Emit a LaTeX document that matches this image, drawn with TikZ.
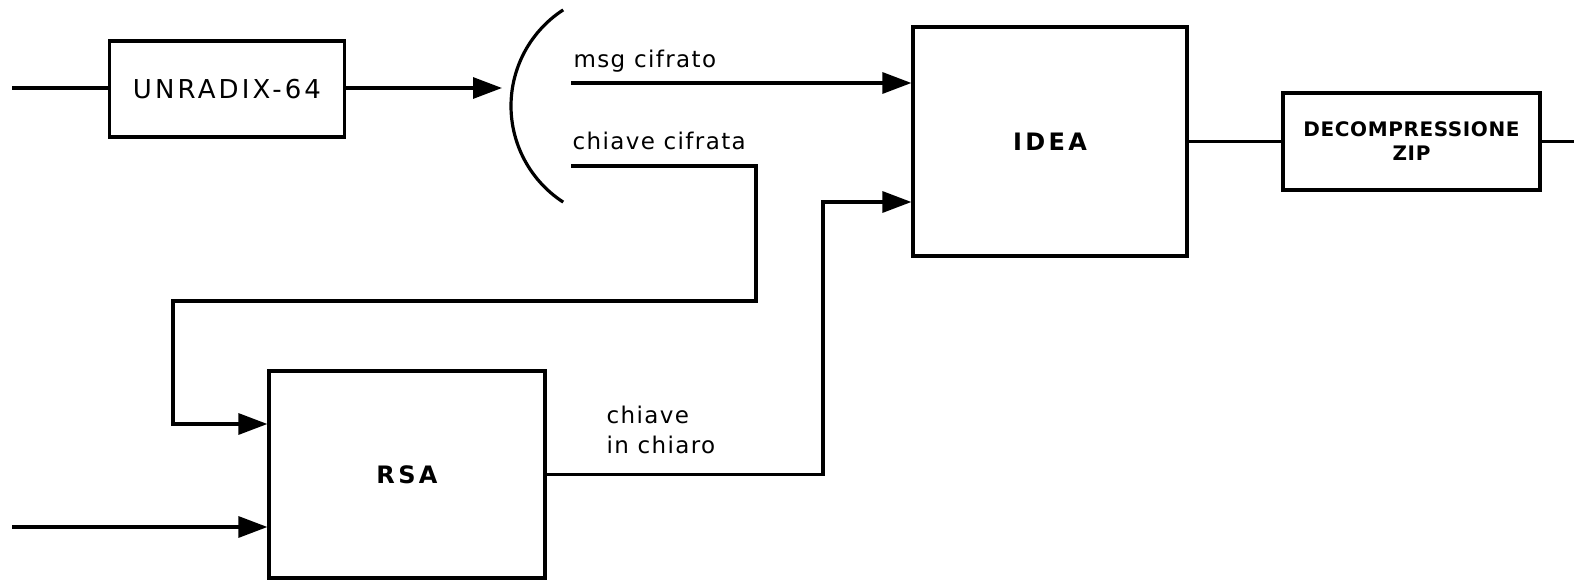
\documentclass[tikz,border=0pt]{standalone}
\usepackage{fontspec}
\setmainfont{DejaVu Sans}
\newfontfamily\lblfont[LetterSpace=6]{DejaVu Sans}
\newfontfamily\boxfont[LetterSpace=12]{DejaVu Sans}
\newfontfamily\wideboldfont[LetterSpace=14]{DejaVu Sans}
\newfontfamily\boldfont[LetterSpace=3]{DejaVu Sans}
\usetikzlibrary{arrows.meta}

\begin{document}
\begin{tikzpicture}[x=1pt,y=-1pt,
  line width=3.2pt,
  blk/.style={draw, rectangle, inner sep=0pt, line width=3.2pt, align=center},
  arr/.style={-{Triangle[length=29pt,width=21pt]}},
  lbl/.style={inner sep=0pt, align=left, font=\lblfont\fontsize{23}{30}\selectfont},
]
\useasboundingbox (0,0) rectangle (1574,580);

% processing blocks
\node[blk, minimum width=235pt, minimum height=96pt,
      font=\boxfont\fontsize{26}{30}\selectfont] (unr) at (227,89) {UNRADIX-64};
\node[blk, minimum width=274pt, minimum height=229pt,
      font=\wideboldfont\bfseries\fontsize{24}{28}\selectfont] (idea) at (1050,141.5) {IDEA};
\node[blk, minimum width=276pt, minimum height=207pt,
      font=\wideboldfont\bfseries\fontsize{24}{28}\selectfont] (rsa) at (407,474.5) {RSA};
\node[blk, minimum width=257pt, minimum height=97pt,
      font=\boldfont\bfseries\fontsize{20}{24}\selectfont] (dec) at (1411.5,141.5) {DECOMPRESSIONE\\ZIP};

% free ends and bends
\coordinate (in1) at (12,88);
\coordinate (arcin) at (502,88);
\coordinate (msgst) at (571,83);
\coordinate (keyst) at (571,166);
\coordinate (k1) at (756,166);
\coordinate (k2) at (756,301);
\coordinate (k3) at (173,301);
\coordinate (k4) at (173,424);
\coordinate (kb) at (823,202);
\coordinate (in2) at (12,527);
\coordinate (out) at (1574,141.5);

% message splitter arc
\draw plot[domain=123:237, samples=60] ({625.6+114.6*cos(\x)},{106+114.6*sin(\x)});

% connectors
\draw (in1) -- (in1 -| unr.west);
\draw[arr] (arcin -| unr.east) -- (arcin);
\draw[arr] (msgst) -- (msgst -| idea.west);
\draw[arr] (keyst) -- (k1) -- (k2) -- (k3) -- (k4) -- (k4 -| rsa.west);
\draw[arr] (rsa.east) -| (kb) -- (kb -| idea.west);
\draw[arr] (in2) -- (in2 -| rsa.west);
\draw (idea.east) -- (dec.west);
\draw (dec.east) -- (out);

% labels
\node[lbl, anchor=base west] (lmsg) at (572,68) {msg cifrato};
\node[lbl, anchor=base west] (lkey) at (571,150) {chiave cifrata};
\node[lbl, anchor=north west] (lclear) at (605,404) {chiave\\in chiaro};
\end{tikzpicture}
\end{document}
